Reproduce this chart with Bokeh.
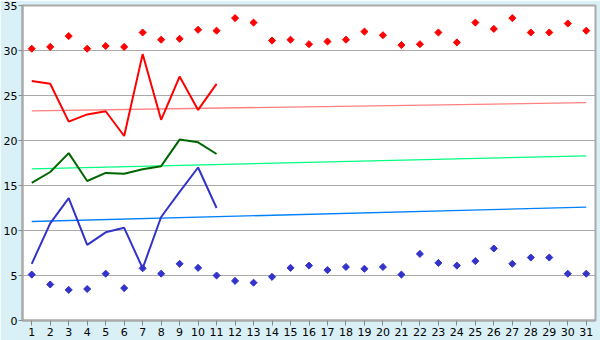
import math
from bokeh.plotting import figure
from bokeh.models import FactorRange, Range1d, FixedTicker
from bokeh.embed import file_html
from bokeh.resources import INLINE

days = [str(i) for i in range(1, 32)]

red_points = [30.2, 30.4, 31.6, 30.2, 30.5, 30.4, 32.0, 31.2, 31.3, 32.3,
              32.2, 33.6, 33.1, 31.1, 31.2, 30.7, 31.0, 31.2, 32.1, 31.7,
              30.6, 30.7, 32.0, 30.9, 33.1, 32.4, 33.6, 32.0, 32.0, 33.0, 32.2]
blue_points = [5.1, 4.0, 3.4, 3.5, 5.2, 3.6, 5.8, 5.2, 6.3, 5.85,
               5.0, 4.4, 4.2, 4.85, 5.85, 6.1, 5.6, 5.95, 5.75, 5.95,
               5.1, 7.4, 6.4, 6.1, 6.6, 8.0, 6.3, 7.0, 7.0, 5.2, 5.2]

line_days = days[:11]
red_line = [26.6, 26.3, 22.1, 22.9, 23.25, 20.5, 29.6, 22.3, 27.1, 23.4, 26.3]
green_line = [15.3, 16.5, 18.6, 15.5, 16.4, 16.3, 16.8, 17.15, 20.1, 19.8, 18.5]
blue_line = [6.3, 10.8, 13.6, 8.4, 9.8, 10.3, 5.8, 11.5, 14.3, 17.0, 12.5]

trend_days = ["1", "31"]
red_trend = [23.3, 24.2]
green_trend = [16.85, 18.3]
blue_trend = [11.0, 12.6]

y_ticks = [0, 5, 10, 15, 20, 25, 30, 35]

p = figure(width=600, height=340, x_range=FactorRange(*days, range_padding=0),
           y_range=Range1d(0, 35), output_backend="svg", toolbar_location=None,
           min_border_left=20, min_border_right=5, min_border_top=5,
           min_border_bottom=20)

p.border_fill_color = "#D9F0F7"
p.background_fill_color = "white"
p.outline_line_color = "#AAAAAA"
p.outline_line_width = 2

p.xgrid.grid_line_color = None
p.ygrid.grid_line_color = "#AAAAAA"
p.ygrid.grid_line_width = 1
p.yaxis.ticker = FixedTicker(ticks=y_ticks)

for ax in (p.xaxis[0], p.yaxis[0]):
    ax.axis_line_color = "#AAAAAA"
    ax.axis_line_width = 2
    ax.major_tick_line_color = "#888888"
    ax.major_tick_in = 0
    ax.minor_tick_line_color = None
    ax.major_label_text_font = "DejaVu Sans"
    ax.major_label_text_font_size = "11px"
    ax.major_label_text_color = "black"
    ax.major_label_standoff = 2
p.xaxis.major_tick_out = 5
p.yaxis.major_tick_out = 4
p.yaxis.major_label_standoff = 1

# trend lines
p.line(trend_days, red_trend, line_color="#FF8080", line_width=1.3)
p.line(trend_days, green_trend, line_color="#00FF80", line_width=1.3)
p.line(trend_days, blue_trend, line_color="#0080FF", line_width=1.3)

# data lines
p.line(line_days, red_line, line_color="#FF0000", line_width=2)
p.line(line_days, green_line, line_color="#006600", line_width=2)
p.line(line_days, blue_line, line_color="#3333CC", line_width=2)

# points
p.scatter(days, red_points, marker="square", size=5, angle=math.pi / 4,
          fill_color="#FF0000", line_color="#FF0000")
p.scatter(days, blue_points, marker="square", size=5, angle=math.pi / 4,
          fill_color="#3333CC", line_color="#3333CC")

open("out.html", "w").write(file_html(p, INLINE))
